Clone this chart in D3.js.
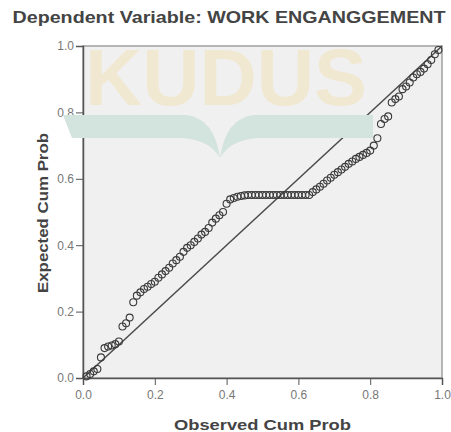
<!DOCTYPE html>
<html>
<head>
<meta charset="utf-8">
<script src="https://cdn.jsdelivr.net/npm/d3@7"></script>
<style>
  body { margin: 0; background: #fff; }
  svg { display: block; font-family: "Liberation Sans", Arial, sans-serif; }
</style>
</head>
<body>
<div id="chart"></div>
<script>
// Normal P-P plot values
const observedCumProb = [
  0.01, 0.02, 0.03, 0.04, 0.05, 0.06, 0.07, 0.08, 0.09, 0.10,
  0.11, 0.12, 0.13, 0.14, 0.15, 0.16, 0.17, 0.18, 0.19, 0.20,
  0.21, 0.22, 0.23, 0.24, 0.25, 0.26, 0.27, 0.28, 0.29, 0.30,
  0.31, 0.32, 0.33, 0.34, 0.35, 0.36, 0.37, 0.38, 0.39, 0.40,
  0.41, 0.42, 0.43, 0.44, 0.45, 0.46, 0.47, 0.48, 0.49, 0.50,
  0.51, 0.52, 0.53, 0.54, 0.55, 0.56, 0.57, 0.58, 0.59, 0.60,
  0.61, 0.62, 0.63, 0.64, 0.65, 0.66, 0.67, 0.68, 0.69, 0.70,
  0.71, 0.72, 0.73, 0.74, 0.75, 0.76, 0.77, 0.78, 0.79, 0.80,
  0.81, 0.82, 0.83, 0.84, 0.85, 0.86, 0.87, 0.88, 0.89, 0.90,
  0.91, 0.92, 0.93, 0.94, 0.95, 0.96, 0.97, 0.98, 0.99
];
const expectedCumProb = [
  0.005, 0.012, 0.020, 0.027, 0.062, 0.090, 0.095, 0.098, 0.102, 0.110,
  0.155, 0.165, 0.182, 0.228, 0.248, 0.258, 0.268, 0.275, 0.283, 0.290,
  0.302, 0.312, 0.322, 0.332, 0.345, 0.355, 0.365, 0.380, 0.392, 0.400,
  0.410, 0.420, 0.432, 0.440, 0.452, 0.468, 0.480, 0.490, 0.500, 0.525,
  0.538, 0.542, 0.546, 0.548, 0.550, 0.551, 0.551, 0.551, 0.551, 0.551,
  0.551, 0.551, 0.551, 0.551, 0.551, 0.551, 0.551, 0.551, 0.551, 0.551,
  0.551, 0.551, 0.551, 0.560, 0.568, 0.576, 0.585, 0.595, 0.603, 0.612,
  0.620, 0.628, 0.636, 0.645, 0.652, 0.660, 0.666, 0.672, 0.678, 0.685,
  0.700, 0.722, 0.765, 0.780, 0.788, 0.830, 0.840, 0.848, 0.870, 0.878,
  0.890, 0.905, 0.915, 0.922, 0.932, 0.945, 0.958, 0.975, 0.988
];
const tickValues = [0, 0.2, 0.4, 0.6, 0.8, 1.0];
const titleText = "Dependent Variable: WORK ENGANGGEMENT";
const xLabel = "Observed Cum Prob";
const yLabel = "Expected Cum Prob";

const points = observedCumProb.map((d, i) => ({ x: d, y: expectedCumProb[i] }));

const margin = { top: 46, right: 9, bottom: 54, left: 83 };
const width = 451 - margin.left - margin.right;
const height = 432 - margin.top - margin.bottom;

const svg = d3.select("#chart")
    .append("svg")
    .attr("width", 451)
    .attr("height", 432);

// title
svg.append("text")
    .attr("x", 229)
    .attr("y", 23)
    .attr("text-anchor", "middle")
    .attr("textLength", 433)
    .attr("lengthAdjust", "spacingAndGlyphs")
    .style("font-size", "17px")
    .style("font-weight", "bold")
    .style("fill", "#444")
    .text(titleText);

const g = svg.append("g")
    .attr("transform", `translate(${margin.left},${margin.top})`);

const x = d3.scaleLinear().domain([0, 1]).range([0, width]);
const y = d3.scaleLinear().domain([0, 1]).range([height, 0]);

// plot background
g.append("rect")
    .attr("width", width)
    .attr("height", height)
    .attr("fill", "#f0f0f0")
    .attr("stroke", "#a0a0a0")
    .attr("stroke-width", 1.5);

// faint repository watermark
const wm = svg.append("g");
wm.append("text")
    .attr("x", 85)
    .attr("y", 105)
    .attr("textLength", 282)
    .attr("lengthAdjust", "spacingAndGlyphs")
    .style("font-size", "80px")
    .style("font-weight", "bold")
    .style("fill", "#f1e8d2")
    .text("KUDUS");
wm.append("path")
    .attr("d", "M63,115 L185,115 Q214,117 220,158 Q226,117 255,115 L373,115 L373,138 L258,138 Q230,140 220,158 Q210,140 182,138 L72,138 Z")
    .attr("fill", "#d3e3dd");

const xAxis = d3.axisBottom(x).tickValues(tickValues).tickSize(7).tickPadding(5).tickFormat(d3.format(".1f"));
const yAxis = d3.axisLeft(y).tickValues(tickValues).tickSize(7).tickPadding(2).tickFormat(d3.format(".1f"));

const gx = g.append("g")
    .attr("transform", `translate(0,${height})`)
    .call(xAxis);
const gy = g.append("g")
    .call(yAxis);

[gx, gy].forEach(a => {
    a.select(".domain").attr("stroke", "#555").attr("stroke-width", 1.5);
    a.selectAll(".tick line").attr("stroke", "#555");
    a.selectAll(".tick text")
        .style("font-size", "12px")
        .style("fill", "#777");
});

// reference diagonal
g.append("line")
    .attr("x1", x(0))
    .attr("y1", y(0))
    .attr("x2", x(1))
    .attr("y2", y(1))
    .attr("stroke", "#4a4a4a")
    .attr("stroke-width", 1.5);

g.selectAll(".pt")
    .data(points)
    .enter().append("circle")
    .attr("class", "pt")
    .attr("cx", d => x(d.x))
    .attr("cy", d => y(d.y))
    .attr("r", 3.5)
    .attr("fill", "none")
    .attr("stroke", "#3a3a3a")
    .attr("stroke-width", 1.1);

// axis titles
svg.append("text")
    .attr("x", margin.left + width / 2)
    .attr("y", 430)
    .attr("text-anchor", "middle")
    .attr("textLength", 177)
    .attr("lengthAdjust", "spacingAndGlyphs")
    .style("font-size", "15px")
    .style("font-weight", "bold")
    .style("fill", "#444")
    .text(xLabel);

svg.append("text")
    .attr("transform", "translate(48,213) rotate(-90)")
    .attr("text-anchor", "middle")
    .attr("textLength", 160)
    .attr("lengthAdjust", "spacingAndGlyphs")
    .style("font-size", "15px")
    .style("font-weight", "bold")
    .style("fill", "#444")
    .text(yLabel);
</script>
</body>
</html>
